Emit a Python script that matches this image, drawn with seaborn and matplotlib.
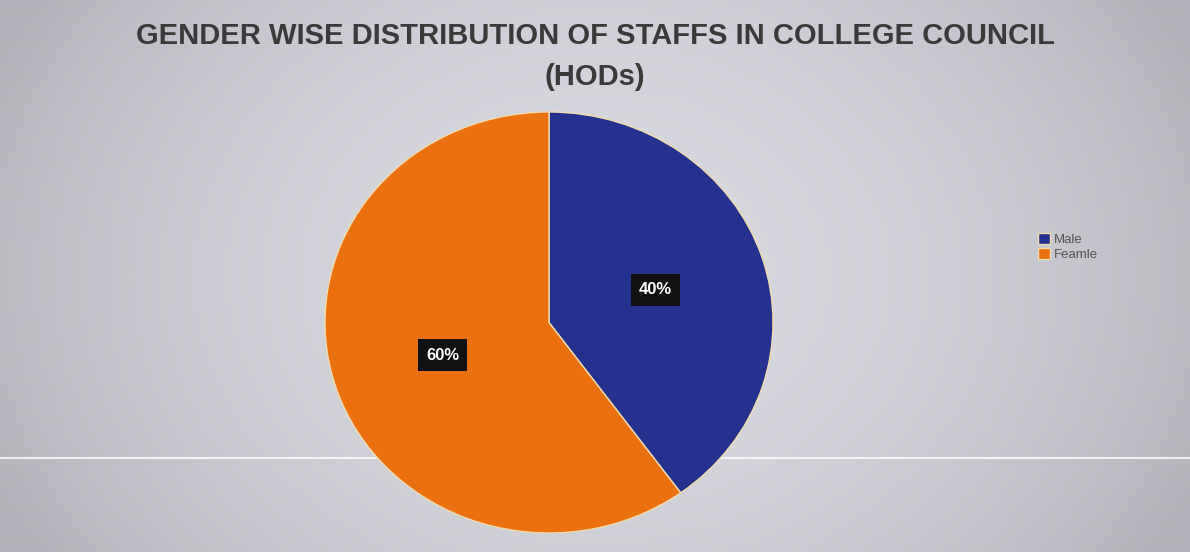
import numpy as np
import matplotlib
matplotlib.use("Agg")
import matplotlib.pyplot as plt
import seaborn as sns
from matplotlib.lines import Line2D

# -------------------- data --------------------
labels = ["Male", "Feamle"]
shares = [40, 60]
colors = ["#24318f", "#ea7010"]
title = "GENDER WISE DISTRIBUTION OF STAFFS IN COLLEGE COUNCIL\n(HODs)"

sns.set_theme(style="white")
plt.rcParams['font.family'] = ['Liberation Sans', 'DejaVu Sans']

fig = plt.figure(figsize=(11.9, 5.52), dpi=100)

# grey scanned-slide background, lighter in the middle
bg = fig.add_axes([0, 0, 1, 1], zorder=0)
xx, yy = np.meshgrid(np.linspace(-1, 1, 240), np.linspace(-1, 1, 110))
shade = 0.85 - 0.12 * (xx ** 2) - 0.04 * (yy ** 2)
rgb = np.dstack([shade, shade, shade + 0.03]).clip(0, 1)
bg.imshow(rgb, aspect="auto", extent=[0, 1, 0, 1])
bg.set_axis_off()
fig.add_artist(Line2D([0, 1], [0.17, 0.17], color="white", lw=1.5, alpha=0.8, zorder=1))

# pie (the scanned slide is slightly squashed, so no equal aspect)
ax = fig.add_axes([0.2731, 0.0344, 0.3765, 0.7627], zorder=2)
wedges, _, autotexts = ax.pie(
    shares, colors=colors, startangle=90, counterclock=False,
    autopct='%1.0f%%', pctdistance=0.5,
    wedgeprops={'edgecolor': '#f0dcae', 'linewidth': 1.0},
    textprops={'color': 'white', 'fontsize': 12, 'fontweight': 'bold'},
)
for t in autotexts:
    t.set_bbox(dict(facecolor='#111111', edgecolor='none', pad=6))
ax.set_aspect('auto')
ax.set_xlim(-1, 1)
ax.set_ylim(-1, 1)

fig.text(0.5, 0.96, title, ha='center', va='top', fontsize=21,
         fontweight='bold', color='#3a3a3a', linespacing=1.6, zorder=3)

fig.legend(wedges, labels, loc='center left', bbox_to_anchor=(0.862, 0.553),
           frameon=False, fontsize=9.5, handlelength=0.9, handleheight=0.9,
           handletextpad=0.3, labelspacing=0.15, labelcolor='#555555')

fig.savefig("out.png", dpi=100)
